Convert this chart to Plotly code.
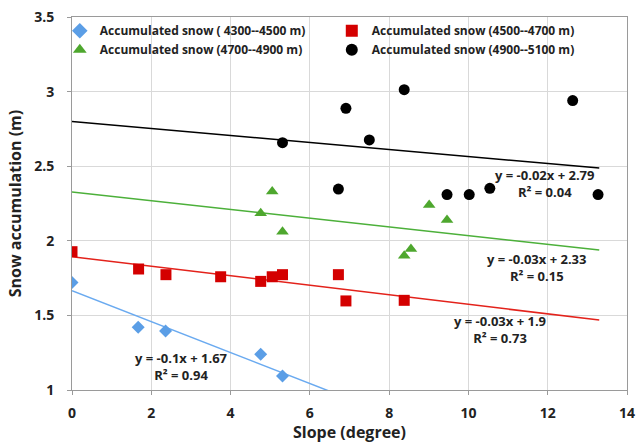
import plotly.graph_objects as go

# ---- data ----
blue_x = [0.0, 1.67, 2.36, 4.76, 5.31]
blue_y = [1.72, 1.42, 1.395, 1.24, 1.094]

red_x = [0.0, 1.68, 2.37, 3.75, 4.76, 5.05, 5.31, 6.72, 6.91, 8.38]
red_y = [1.927, 1.811, 1.773, 1.759, 1.728, 1.759, 1.773, 1.773, 1.597, 1.601]

green_x = [4.76, 5.05, 5.31, 8.38, 8.55, 9.01, 9.46]
green_y = [2.185, 2.33, 2.061, 1.90, 1.945, 2.24, 2.14]

black_x = [5.31, 6.72, 6.91, 7.5, 8.38, 9.46, 10.02, 10.54, 12.63, 13.27]
black_y = [2.658, 2.347, 2.888, 2.676, 3.013, 2.31, 2.31, 2.352, 2.94, 2.31]

series_names = [
    "Accumulated snow ( 4300--4500 m)",
    "Accumulated snow (4500--4700 m)",
    "Accumulated snow (4700--4900 m)",
    "Accumulated snow (4900--5100 m)",
]

# trendline coefficients (slope, intercept) as drawn
trend_slope = [-0.1036, -0.032, -0.0292, -0.0235]
trend_intercept = [1.665, 1.894, 2.327, 2.80]
trend_x_range = [0.0, 13.3]

eq_text = [
    "y = -0.1x + 1.67<br>R² = 0.94",
    "y = -0.03x + 1.9<br>R² = 0.73",
    "y = -0.03x + 2.33<br>R² = 0.15",
    "y = -0.02x + 2.79<br>R² = 0.04",
]
eq_pos = [(2.75, 1.158), (10.8, 1.406), (11.71, 1.824), (11.93, 2.384)]

x_ticks = [0, 2, 4, 6, 8, 10, 12, 14]
y_ticks = [1, 1.5, 2, 2.5, 3, 3.5]
y_tick_labels = ["1", "1.5", "2", "2.5", "3", "3.5"]

# ---- styles ----
marker_colors = ["#5b9ee6", "#d40000", "#4ea72e", "#000000"]
line_colors = ["#6aaaf0", "#e3221b", "#4cb03a", "#000000"]
symbols = ["diamond", "square", "triangle-up", "circle"]
sizes = [10, 11, 11, 11]
FONT = "Open Sans"
TXT = "#222222"

xs = [blue_x, red_x, green_x, black_x]
ys = [blue_y, red_y, green_y, black_y]

fig = go.Figure()
for i in range(4):
    tx = trend_x_range
    ty = [trend_slope[i] * v + trend_intercept[i] for v in tx]
    fig.add_trace(go.Scatter(x=tx, y=ty, mode="lines",
                             line=dict(color=line_colors[i], width=1.5),
                             showlegend=False, hoverinfo="skip"))
for i in range(4):
    fig.add_trace(go.Scatter(x=xs[i], y=ys[i], mode="markers", name=series_names[i],
                             marker=dict(symbol=symbols[i], size=sizes[i],
                                         color=marker_colors[i], line=dict(width=0))))

for i in range(4):
    fig.add_annotation(x=eq_pos[i][0], y=eq_pos[i][1], text=eq_text[i],
                       showarrow=False, align="center",
                       font=dict(family=FONT, size=13, color=TXT, weight="bold"))

fig.update_layout(
    width=637, height=443,
    margin=dict(l=72, r=10, t=17, b=53, autoexpand=False),
    paper_bgcolor="white", plot_bgcolor="white",
    font=dict(family=FONT, color=TXT),
    legend=dict(orientation="h", x=-0.022, y=1.002, xanchor="left", yanchor="top",
                entrywidth=227, entrywidthmode="pixels",
                bgcolor="rgba(255,255,255,0)",
                font=dict(family=FONT, size=12, color=TXT, weight="bold"),
                itemsizing="constant", tracegroupgap=0),
    showlegend=True,
)
fig.update_xaxes(range=[0, 14], tickvals=x_ticks, showgrid=True, gridcolor="#d9d9d9",
                 showline=True, linecolor="#9a9a9a", mirror=True, ticks="outside",
                 ticklen=4, tickcolor="#9a9a9a", zeroline=False, automargin=False,
                 ticklabelstandoff=6,
                 tickfont=dict(family=FONT, size=14, color=TXT, weight="bold"),
                 title=dict(text="Slope (degree)", standoff=6,
                            font=dict(family=FONT, size=16, color=TXT, weight="bold")))
fig.update_yaxes(range=[1, 3.5], tickvals=y_ticks, ticktext=y_tick_labels, showgrid=True,
                 gridcolor="#d9d9d9", showline=True, linecolor="#9a9a9a", mirror=True,
                 ticks="outside", ticklen=4, tickcolor="#9a9a9a", zeroline=False,
                 automargin=False, ticklabelstandoff=10,
                 tickfont=dict(family=FONT, size=14, color=TXT, weight="bold"),
                 title=dict(text="Snow accumulation (m)", standoff=8,
                            font=dict(family=FONT, size=16, color=TXT, weight="bold")))

fig.write_html("out.html")
